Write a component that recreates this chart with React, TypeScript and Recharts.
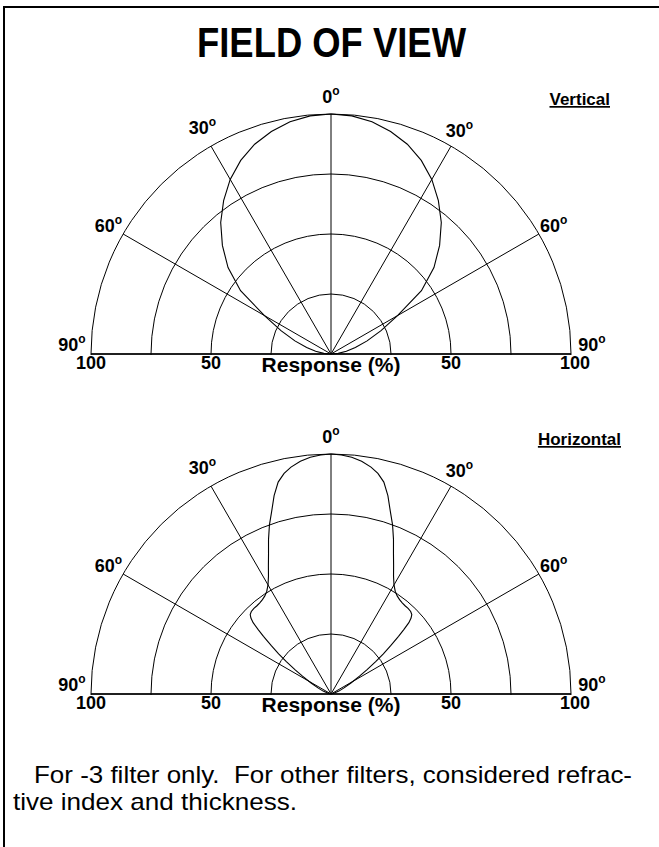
import React from "react";
import { RadarChart, Radar, PolarGrid, PolarAngleAxis, PolarRadiusAxis } from "recharts";

// angle from the 0° axis (one side, the pattern is symmetric) and relative response in %
const VERTICAL_ANGLES = [0, 5, 10, 15, 20, 25, 30, 35, 40, 45, 50, 55, 60, 65, 70, 75, 80, 85, 90];
const VERTICAL_RESPONSE = [100, 99.6, 98.3, 96, 93, 89, 84, 78, 71.5, 64, 56, 46, 32, 23, 16, 10.5, 6.5, 3, 0];

const HORIZONTAL_ANGLES = [
  0, 2.5, 5, 7.5, 10, 12, 14, 16, 18, 20, 22, 24, 26, 28, 30, 32, 34, 36, 38, 40, 42, 44, 45.5, 46.5, 47.5, 48.5,
  49.5, 51, 52.5, 54, 56, 58, 61, 65, 70, 80, 90,
];
const HORIZONTAL_RESPONSE = [
  100, 99.7, 99, 97.8, 96, 94, 91, 86, 80, 75, 69.5, 64, 59.5, 55.5, 52.5, 50.5, 49.3, 48.6, 48.2, 48, 48, 47.8,
  47.2, 46, 44, 40.5, 37, 32, 27.5, 23, 18, 14, 9.5, 6, 3.5, 1, 0,
];

const ANGLE_TICKS = [-90, -60, -30, 0, 30, 60, 90];
const RESPONSE_DOMAIN = [0, 100];
const SCALE_LABELS = ["100", "50", "50", "100"];

const FONT = "'Liberation Sans', Arial, Helvetica, sans-serif";
const CX = 331;
const CY = 354;
const RADIUS = 240;

type Point = { angle: number; r: number };

function mirror(angles: number[], values: number[]): Point[] {
  const left = angles
    .slice(1)
    .map((a, i) => ({ angle: -a, r: values[i + 1] }))
    .reverse();
  const right = angles.map((a, i) => ({ angle: a, r: values[i] }));
  return [...left, ...right];
}

const verticalData = mirror(VERTICAL_ANGLES, VERTICAL_RESPONSE);
const horizontalData = mirror(HORIZONTAL_ANGLES, HORIZONTAL_RESPONSE);

function AngleTick(props: any) {
  const { x, y, payload } = props;
  const v = Math.abs(payload.value);
  let dx = 0;
  let dy = 0;
  if (v === 90) {
    dx = payload.value < 0 ? -2 : 4;
    dy = -9;
  }
  if (v === 30) dy = payload.value < 0 ? -3 : 0;
  return (
    <text
      x={x + dx}
      y={y + dy}
      textAnchor="middle"
      dominantBaseline="central"
      fontFamily={FONT}
      fontWeight="bold"
      fontSize={18}
      fill="#000"
    >
      {v}
      <tspan dy={-6} fontSize={12}>
        o
      </tspan>
    </text>
  );
}

function PolarPlot({ data, top, label, labelRight }: { data: Point[]; top: number; label: string; labelRight: number }) {
  const labelStyle = { fontFamily: FONT, fontWeight: "bold" as const, fontSize: 18, fill: "#000" };
  return (
    <div style={{ position: "absolute", left: 0, top, width: 659 }}>
      <div style={{ height: CY + 1, overflow: "hidden" }}>
        <RadarChart
          width={659}
          height={CY + 1}
          data={data}
          cx={CX}
          cy={CY}
          outerRadius={RADIUS}
          startAngle={180}
          endAngle={0}
          margin={{ top: 0, right: 0, bottom: 0, left: 0 }}
        >
          <PolarGrid gridType="circle" stroke="#000" strokeWidth={1} />
          <PolarAngleAxis
            dataKey="angle"
            type="number"
            domain={[-90, 90]}
            ticks={ANGLE_TICKS}
            tick={<AngleTick />}
            tickLine={false}
            axisLine={false}
            tickSize={17}
          />
          <PolarRadiusAxis domain={RESPONSE_DOMAIN} tickCount={5} tick={false} axisLine={false} />
          <Radar
            dataKey="r"
            stroke="#000"
            strokeWidth={1.1}
            fill="none"
            fillOpacity={0}
            dot={false}
            isAnimationActive={false}
          />
        </RadarChart>
      </div>
      <svg width={659} height={40} style={{ position: "absolute", left: 0, top: CY - 2, overflow: "visible" }}>
        <line x1={CX - RADIUS} x2={CX + RADIUS} y1={2} y2={2} stroke="#000" strokeWidth={1.6} />
        <text x={CX - RADIUS} y={17} textAnchor="middle" {...labelStyle}>{SCALE_LABELS[0]}</text>
        <text x={CX - RADIUS / 2} y={17} textAnchor="middle" {...labelStyle}>{SCALE_LABELS[1]}</text>
        <text x={CX + RADIUS / 2} y={17} textAnchor="middle" {...labelStyle}>{SCALE_LABELS[2]}</text>
        <text x={CX + RADIUS + 4} y={17} textAnchor="middle" {...labelStyle}>{SCALE_LABELS[3]}</text>
        <text x={CX} y={20} textAnchor="middle" {...labelStyle} fontSize={21}>
          Response (%)
        </text>
      </svg>
      <svg width={659} height={30} style={{ position: "absolute", left: 0, top: 80 }}>
        <text x={labelRight} y={25} textAnchor="end" {...labelStyle} fontSize={17} textDecoration="underline">
          {label}
        </text>
      </svg>
    </div>
  );
}

export default function App() {
  return (
    <div style={{ position: "absolute", left: 0, top: 0, width: 659, height: 847, background: "#fff", overflow: "hidden" }}>
      <div
        style={{
          position: "absolute",
          left: 3,
          top: 6,
          width: 700,
          height: 900,
          borderTop: "2.5px solid #000",
          borderLeft: "2.5px solid #000",
        }}
      />
      <svg width={659} height={70} style={{ position: "absolute", left: 0, top: 0 }}>
        <text
          x={197}
          y={57}
          textLength={269}
          lengthAdjust="spacingAndGlyphs"
          fontFamily={FONT}
          fontWeight="bold"
          fontSize={42}
          fill="#000"
        >
          FIELD OF VIEW
        </text>
      </svg>
      <PolarPlot data={verticalData} top={0} label="Vertical" labelRight={610} />
      <PolarPlot data={horizontalData} top={340} label="Horizontal" labelRight={621} />
      <svg width={659} height={70} style={{ position: "absolute", left: 0, top: 760 }}>
        <text
          x={34}
          y={23}
          textLength={598}
          lengthAdjust="spacingAndGlyphs"
          fontFamily={FONT}
          fontSize={24}
          fill="#000"
        >
          For -3 filter only.{"\u00a0\u00a0"}For other filters, considered refrac-
        </text>
        <text
          x={13}
          y={50}
          textLength={284}
          lengthAdjust="spacingAndGlyphs"
          fontFamily={FONT}
          fontSize={24}
          fill="#000"
        >
          tive index and thickness.
        </text>
      </svg>
    </div>
  );
}
